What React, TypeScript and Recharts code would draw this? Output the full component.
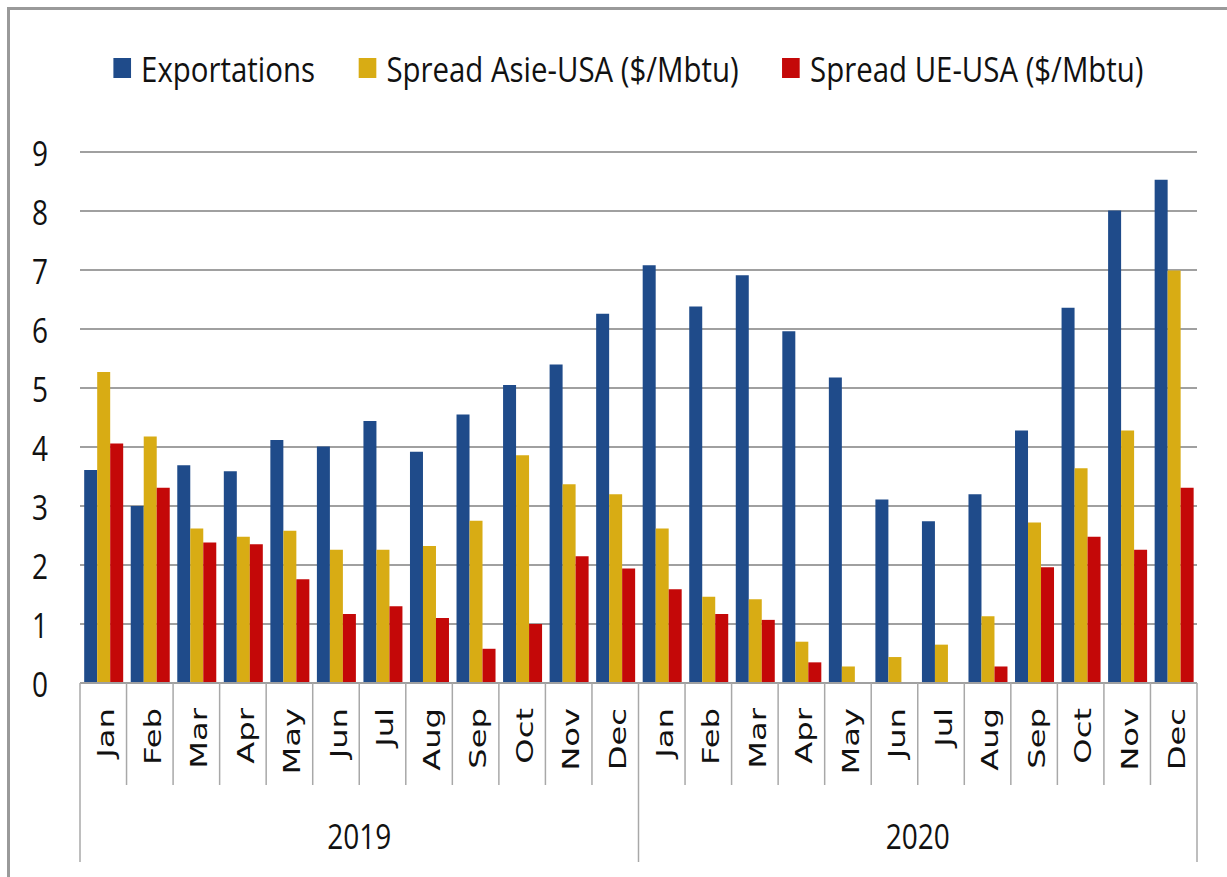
import React from "react";
import { BarChart, Bar, XAxis, YAxis, CartesianGrid, Legend } from "recharts";

const months = ["Jan", "Feb", "Mar", "Apr", "May", "Jun", "Jul", "Aug", "Sep", "Oct", "Nov", "Dec"];
const years = ["2019", "2020"];

const exportations = [
  3.61, 3.0, 3.69, 3.59, 4.12, 4.01, 4.44, 3.92, 4.55, 5.05, 5.4, 6.26,
  7.08, 6.38, 6.91, 5.96, 5.18, 3.11, 2.74, 3.2, 4.28, 6.36, 8.01, 8.53,
];
const spreadAsie = [
  5.27, 4.18, 2.62, 2.48, 2.58, 2.26, 2.26, 2.32, 2.75, 3.86, 3.37, 3.2,
  2.62, 1.46, 1.42, 0.7, 0.28, 0.44, 0.65, 1.13, 2.72, 3.64, 4.28, 6.99,
];
const spreadUE = [
  4.06, 3.31, 2.38, 2.35, 1.76, 1.17, 1.3, 1.1, 0.58, 1.0, 2.15, 1.94,
  1.59, 1.17, 1.07, 0.35, 0, 0, 0, 0.28, 1.96, 2.48, 2.26, 3.31,
];
const yTicks = [0, 1, 2, 3, 4, 5, 6, 7, 8, 9];

const series = [
  { key: "exportations", name: "Exportations", color: "#1F4B8A" },
  { key: "spreadAsie", name: "Spread Asie-USA ($/Mbtu)", color: "#D8AC14" },
  { key: "spreadUE", name: "Spread UE-USA ($/Mbtu)", color: "#C40808" },
];

const data = exportations.map((v, i) => ({
  key: `${years[Math.floor(i / 12)]}-${months[i % 12]}`,
  month: months[i % 12],
  year: years[Math.floor(i / 12)],
  exportations: v,
  spreadAsie: spreadAsie[i],
  spreadUE: spreadUE[i],
}));

const TEXT = "#111";
const SEP = "#a8a8a8";

function LegendContent() {
  return (
    <div
      style={{
        transform: "scaleX(0.84)",
        transformOrigin: "0 0",
        paddingLeft: 135,
        height: 60,
        display: "flex",
        alignItems: "center",
        whiteSpace: "nowrap",
        fontFamily: "'Open Sans', sans-serif",
        fontSize: 35,
        color: TEXT,
      }}
    >
      {series.map((s) => (
        <div key={s.key} style={{ display: "flex", alignItems: "center", marginRight: 52 }}>
          <span style={{ display: "inline-block", width: 21, height: 20, background: s.color, marginRight: 12 }} />
          <span>{s.name}</span>
        </div>
      ))}
    </div>
  );
}

function YTick(props: any) {
  const { x, y, payload } = props;
  return (
    <g transform={`translate(${x},${y}) scale(0.8,1)`}>
      <text textAnchor="end" dominantBaseline="central" fill={TEXT} fontSize={35} fontFamily="'Open Sans', sans-serif">
        {payload.value}
      </text>
    </g>
  );
}

function MonthTick(props: any) {
  const { x, y, payload, index } = props;
  const half = payload && payload.offset ? payload.offset : 23.27;
  const i = index as number;
  const row = data[i];
  const left = x - half;
  const right = x + half;
  const yearStart = i % 12 === 0;
  return (
    <g>
      <line x1={left} y1={y} x2={left} y2={y + (yearStart ? 179 : 102)} stroke={SEP} strokeWidth={1.5} />
      {i === data.length - 1 && (
        <line x1={right} y1={y} x2={right} y2={y + 179} stroke={SEP} strokeWidth={1.5} />
      )}
      <g transform={`translate(${x + 3},${y + 25}) rotate(-90) scale(1.4,1)`}>
        <text textAnchor="end" dominantBaseline="central" fill={TEXT} fontSize={23} fontFamily="'DejaVu Sans', sans-serif">
          {row ? row.month : payload.value}
        </text>
      </g>
      {yearStart && (
        <g transform={`translate(${x + 11 * half},${y + 152}) scale(0.8,1)`}>
          <text textAnchor="middle" dominantBaseline="central" fill={TEXT} fontSize={35} fontFamily="'Open Sans', sans-serif">
            {row.year}
          </text>
        </g>
      )}
    </g>
  );
}

export default function App() {
  return (
    <div style={{ position: "absolute", left: 0, top: 0, width: 1227, height: 877, background: "#fff" }}>
      <div
        style={{
          position: "absolute",
          left: 7,
          top: 7,
          width: 1240,
          height: 900,
          borderTop: "3px solid #9a9a9a",
          borderLeft: "3px solid #9a9a9a",
        }}
      />
      <div style={{ position: "absolute", left: 0, top: 0 }}>
        <BarChart
          width={1227}
          height={877}
          data={data}
          margin={{ top: 92, right: 30, bottom: 14, left: 20 }}
          barCategoryGap="9%"
          barGap={0}
        >
          <Legend
            verticalAlign="top"
            align="left"
            content={() => <LegendContent />}
            wrapperStyle={{ top: 38, left: 0, width: 1227 }}
          />
          <CartesianGrid vertical={false} stroke="#a0a0a0" strokeWidth={2} />
          <XAxis
            dataKey="key"
            interval={0}
            height={180}
            tickSize={0}
            tickMargin={0}
            axisLine={{ stroke: "#a0a0a0", strokeWidth: 2 }}
            tick={<MonthTick />}
          />
          <YAxis
            domain={[0, 9]}
            ticks={yTicks}
            width={60}
            tickSize={0}
            tickMargin={32}
            axisLine={false}
            tickLine={false}
            tick={<YTick />}
          />
          {series.map((s) => (
            <Bar key={s.key} dataKey={s.key} name={s.name} fill={s.color} isAnimationActive={false} />
          ))}
        </BarChart>
      </div>
    </div>
  );
}
